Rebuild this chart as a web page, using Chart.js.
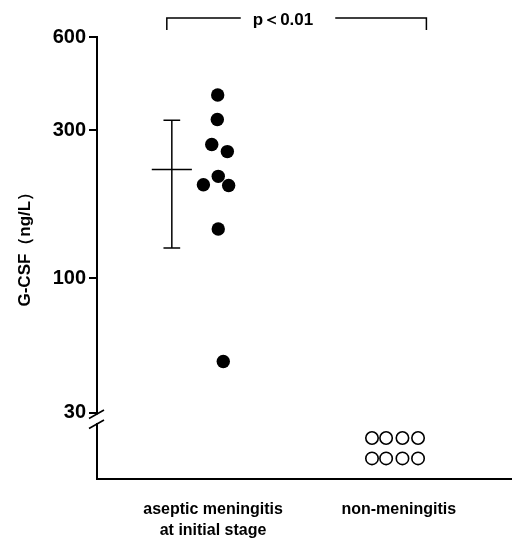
<!DOCTYPE html>
<html><head><meta charset="utf-8">
<script src="https://cdn.jsdelivr.net/npm/chart.js@4/dist/chart.umd.min.js"></script>
<style>html,body{margin:0;padding:0;background:#fff}</style>
</head><body>
<canvas id="c" width="512" height="542"></canvas>
<script>
// ---- data ----
const categories = [["aseptic meningitis", "at initial stage"], "non-meningitis"];
const categoryPositions = [1, 2];
const yTickValues = [30, 100, 300, 600];
// aseptic meningitis at initial stage: individual G-CSF values (ng/L) and their jittered x positions
const asepticValues = [390, 325, 270, 256, 213, 200, 199, 144, 47.5];
const asepticJitter = [1.025, 1.023, 0.993, 1.077, 1.028, 0.948, 1.084, 1.028, 1.055];
// non-meningitis: below the axis break (undetectable), two rows of four
const nonValues = [24, 24, 24, 24, 20, 20, 20, 20];
const nonJitter = [1.856, 1.932, 2.020, 2.104, 1.856, 1.932, 2.020, 2.104];
// mean ± SD of the aseptic group
const asepticMean = [224];
const asepticSD = [125, 323];
const summaryX = [0.778];
const pText = "p＜0.01";
const yTitle = "G-CSF（ng/L）";

// ---- broken (piecewise) logarithmic axis, as in the figure ----
const BREAK_VALUE = 100, LOWER_FACTOR = 0.833, TITLE_SHIFT = -13;
class BrokenLogScale extends Chart.LogarithmicScale {
  _warp(v) {
    const l = Math.log10(v), b = Math.log10(BREAK_VALUE);
    return v >= BREAK_VALUE ? l : b - LOWER_FACTOR * (b - l);
  }
  _unwarp(w) {
    const b = Math.log10(BREAK_VALUE);
    return Math.pow(10, w >= b ? w : b - (b - w) / LOWER_FACTOR);
  }
  getPixelForValue(value) {
    if (value === undefined || value === null || isNaN(value) || value <= 0) return NaN;
    const a = this._warp(this.min), b = this._warp(this.max);
    return this.getPixelForDecimal((this._warp(value) - a) / (b - a));
  }
  getValueForPixel(pixel) {
    const d = this.getDecimalForPixel(pixel);
    const a = this._warp(this.min), b = this._warp(this.max);
    return this._unwarp(a + d * (b - a));
  }
  drawTitle() {
    const ctx = this.ctx;
    ctx.save();
    ctx.translate(0, TITLE_SHIFT);
    super.drawTitle();
    ctx.restore();
  }
}
BrokenLogScale.id = 'brokenLog';
BrokenLogScale.defaults = { ticks: { major: { enabled: false } } };
Chart.register(BrokenLogScale);

const FONT = "'Liberation Sans', Arial, Helvetica, sans-serif";

const decorations = {
  id: 'decorations',
  afterDraw(chart) {
    const ctx = chart.ctx, xs = chart.scales.x, ys = chart.scales.y;
    const ax = chart.chartArea.left;
    const y30 = ys.getPixelForValue(30);
    ctx.save();
    // axis break
    ctx.fillStyle = '#fff';
    ctx.fillRect(ax - 3, y30 + 1.5, 6, 8.5);
    ctx.strokeStyle = '#000';
    ctx.lineWidth = 1.6;
    ctx.beginPath();
    ctx.moveTo(ax - 8, y30 + 5.5); ctx.lineTo(ax + 7, y30 - 3);
    ctx.moveTo(ax - 8, y30 + 15.5); ctx.lineTo(ax + 7, y30 + 7);
    ctx.stroke();
    // significance bracket
    const x1 = xs.getPixelForValue(0.751), x2 = xs.getPixelForValue(2.149);
    const yb = 18, yt = 30;
    ctx.font = "bold 17px " + FONT;
    const tw = ctx.measureText(pText).width;
    const cx = 283;
    ctx.lineWidth = 1.5;
    ctx.beginPath();
    ctx.moveTo(x1, yt); ctx.lineTo(x1, yb); ctx.lineTo(cx - tw / 2 - 12, yb);
    ctx.moveTo(cx + tw / 2 + 22, yb); ctx.lineTo(x2, yb); ctx.lineTo(x2, yt);
    ctx.stroke();
    ctx.fillStyle = '#000';
    ctx.textAlign = 'center';
    ctx.textBaseline = 'middle';
    ctx.fillText(pText, cx, 20);
    ctx.restore();
  }
};

const seg = (pts) => ({
  type: 'scatter', data: pts, showLine: true, pointRadius: 0,
  borderColor: '#000', borderWidth: 1.5, fill: false
});

new Chart(document.getElementById('c'), {
  type: 'scatter',
  data: {
    datasets: [
      {
        data: asepticValues.map((v, i) => ({ x: asepticJitter[i], y: v })),
        pointRadius: 6.7, pointBackgroundColor: '#000', pointBorderWidth: 0
      },
      {
        data: nonValues.map((v, i) => ({ x: nonJitter[i], y: v })),
        pointRadius: 6.2, pointBackgroundColor: '#fff', pointBorderColor: '#000', pointBorderWidth: 1.6
      },
      seg([{ x: summaryX[0], y: asepticSD[0] }, { x: summaryX[0], y: asepticSD[1] }]),
      seg([{ x: summaryX[0] - 0.108, y: asepticMean[0] }, { x: summaryX[0] + 0.108, y: asepticMean[0] }]),
      seg([{ x: summaryX[0] - 0.045, y: asepticSD[1] }, { x: summaryX[0] + 0.045, y: asepticSD[1] }]),
      seg([{ x: summaryX[0] - 0.045, y: asepticSD[0] }, { x: summaryX[0] + 0.045, y: asepticSD[0] }])
    ]
  },
  options: {
    responsive: false,
    animation: false,
    devicePixelRatio: 1,
    layout: { autoPadding: false, padding: { top: 37, right: 0, left: 0, bottom: 0 } },
    plugins: { legend: { display: false }, tooltip: { enabled: false } },
    scales: {
      x: {
        type: 'linear', min: 0.375, max: 2.61,
        afterBuildTicks: (s) => { s.ticks = categoryPositions.map(v => ({ value: v })); },
        afterFit: (s) => { s.height = 62.7; },
        grid: { display: false, drawTicks: false },
        border: { display: true, color: '#000', width: 2 },
        ticks: {
          autoSkip: false, maxRotation: 0, padding: 20, color: '#000',
          font: { family: FONT, size: 16, weight: 'bold', lineHeight: 1.3 },
          callback: (v) => categories[categoryPositions.indexOf(v)]
        }
      },
      y: {
        type: 'brokenLog', min: 16.6, max: 600,
        afterBuildTicks: (s) => { s.ticks = yTickValues.map(v => ({ value: v })); },
        afterFit: (s) => { s.width = 97; },
        grid: { display: true, drawOnChartArea: false, drawTicks: true, tickLength: 8, color: '#000', lineWidth: 2 },
        border: { display: true, color: '#000', width: 2 },
        ticks: {
          autoSkip: false, padding: 3, color: '#000',
          font: { family: FONT, size: 20, weight: 'bold' },
          callback: (v) => String(v)
        },
        title: {
          display: true, text: yTitle, color: '#000', padding: { top: 15, bottom: 0 },
          font: { family: FONT, size: 17, weight: 'bold' }
        }
      }
    }
  },
  plugins: [decorations]
});
</script>
</body></html>
